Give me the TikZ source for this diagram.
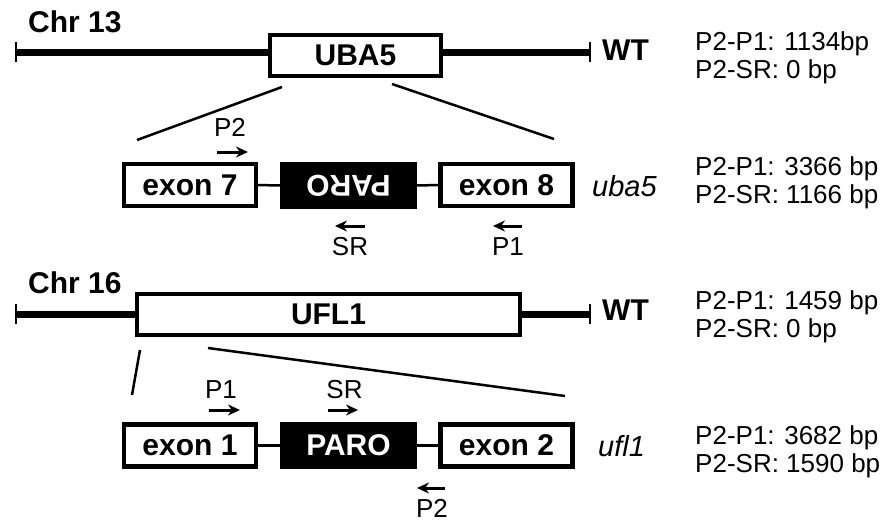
\documentclass[tikz,border=0pt]{standalone}
\usepackage{fontspec}
\usepackage{graphicx}
\setmainfont{Liberation Sans}
\usetikzlibrary{arrows.meta}

\tikzset{
  chrom/.style={line width=7pt},
  chromend/.style={line width=2.5pt},
  genebox/.style={draw, line width=4.3pt, fill=white, inner sep=0pt, minimum height=40.7pt,
    font=\bfseries\fontsize{30}{32}\selectfont},
  exonbox/.style={draw, line width=4.3pt, fill=white, inner sep=0pt, minimum width=132pt,
    minimum height=42pt, font=\bfseries\fontsize{30}{32}\selectfont},
  parobox/.style={fill=black, text=white, inner sep=0pt, minimum width=137pt,
    minimum height=47pt, font=\bfseries\fontsize{30}{32}\selectfont},
  intron/.style={line width=2.5pt},
  zoomline/.style={line width=2.5pt},
  primer/.style={line width=3pt, -{Stealth[length=12pt,width=11pt]}},
  lbl/.style={font=\fontsize{26}{28}\selectfont, inner sep=0pt, anchor=base},
  chrlbl/.style={font=\bfseries\fontsize{30}{32}\selectfont, inner sep=0pt, anchor=base west},
  allele/.style={font=\itshape\fontsize{29}{32}\selectfont, inner sep=0pt, anchor=base west},
  sizes/.style={font=\fontsize{26}{28}\selectfont, inner sep=0pt, align=left, anchor=north west}
}

\begin{document}
\begin{tikzpicture}[x=1pt,y=-1pt]
    \useasboundingbox (0,0) rectangle (889,527);
    % Chr 13, wild type UBA5
    \node[chrlbl] (chrA) at (28,33) {Chr 13};
    \node[genebox, minimum width=170.7pt] (uba) at (355.5,55.5) {UBA5};
    \coordinate (endA1) at (16,52.5);
    \coordinate (endA2) at (590,52.5);
    \draw[chrom] (endA1) -- (endA1 -| uba.west);
    \draw[chrom] (uba.east |- endA2) -- (endA2);
    \draw[chromend] ([yshift=-10pt]endA1) -- ([yshift=10pt]endA1);
    \draw[chromend] ([yshift=-10pt]endA2) -- ([yshift=10pt]endA2);
    \node[chrlbl] (wtA) at (602,60) {WT};
    \node[sizes] (szA) at (695,31.5) {P2-P1: 1134bp\\P2-SR: 0 bp};
    % uba5 allele
    \draw[zoomline] (282,87) -- (137,140);
    \draw[zoomline] (392,84) -- (554,139);
    \node[exonbox] (ex7) at (190,185) {exon 7};
    \node[parobox] (paroA) at (348.5,185.5) {\rotatebox[origin=c]{180}{PARO}};
    \node[exonbox] (ex8) at (506.5,185) {exon 8};
    \draw[intron] (ex7) -- (paroA);
    \draw[intron] (paroA) -- (ex8);
    \node[lbl] (pA2) at (230,136) {P2};
    \draw[primer] (217,152) -- (248,152);
    \draw[primer] (365,226) -- (335,226);
    \node[lbl] (sA) at (350,255) {SR};
    \draw[primer] (522,226) -- (493,226);
    \node[lbl] (pA1) at (508,255) {P1};
    \node[allele] (alA) at (592,196) {uba5};
    \node[sizes] (szA2) at (695,156.5) {P2-P1: 3366 bp\\P2-SR: 1166 bp};
    % Chr 16, wild type UFL1
    \node[chrlbl] (chrB) at (28,293) {Chr 16};
    \node[genebox, minimum width=382.7pt] (ufl) at (328.5,314.5) {UFL1};
    \coordinate (endB1) at (16,314);
    \coordinate (endB2) at (590,314);
    \draw[chrom] (endB1) -- (endB1 -| ufl.west);
    \draw[chrom] (ufl.east |- endB2) -- (endB2);
    \draw[chromend] ([yshift=-10pt]endB1) -- ([yshift=10pt]endB1);
    \draw[chromend] ([yshift=-10pt]endB2) -- ([yshift=10pt]endB2);
    \node[chrlbl] (wtB) at (602,320) {WT};
    \node[sizes] (szB) at (695,290) {P2-P1: 1459 bp\\P2-SR: 0 bp};
    % ufl1 allele
    \draw[zoomline] (140,350) -- (132,395);
    \draw[zoomline] (208,348) -- (565,396);
    \node[exonbox] (ex1) at (190,445.5) {exon 1};
    \node[parobox] (paroB) at (348.5,445.5) {PARO};
    \node[exonbox] (ex2) at (506.5,445.5) {exon 2};
    \draw[intron] (ex1) -- (paroB);
    \draw[intron] (paroB) -- (ex2);
    \node[lbl] (pB1) at (221,398) {P1};
    \draw[primer] (209,410) -- (240,410);
    \node[lbl] (sB) at (344.5,398) {SR};
    \draw[primer] (328,410) -- (358,410);
    \draw[primer] (445,488) -- (417,488);
    \node[lbl] (pB2) at (432,517) {P2};
    \node[allele] (alB) at (598,456) {ufl1};
    \node[sizes] (szB2) at (695,425) {P2-P1: 3682 bp\\P2-SR: 1590 bp};
\end{tikzpicture}
\end{document}
